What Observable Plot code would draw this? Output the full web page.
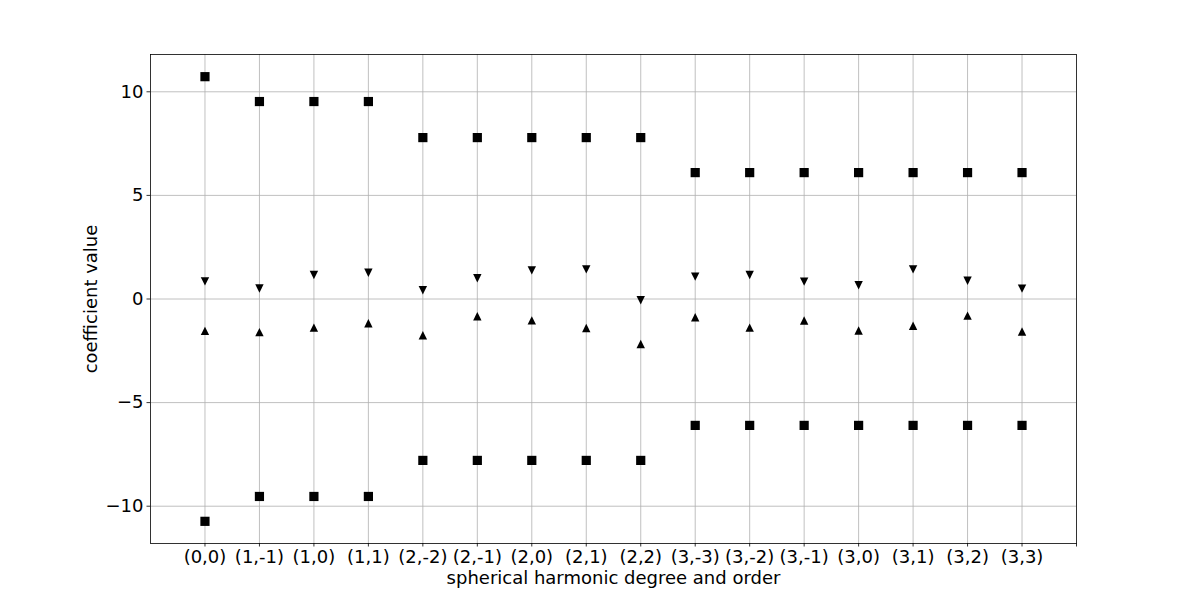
<!DOCTYPE html>
<html><head><meta charset="utf-8">
<script src="https://cdn.jsdelivr.net/npm/d3@7"></script>
<script src="https://cdn.jsdelivr.net/npm/@observablehq/plot@0.6"></script>
<style>html,body{margin:0;padding:0;background:#fff;overflow:hidden}</style>
</head><body><div id="chart"></div>
<script>
const labels = ["(0,0)","(1,-1)","(1,0)","(1,1)","(2,-2)","(2,-1)","(2,0)","(2,1)","(2,2)","(3,-3)","(3,-2)","(3,-1)","(3,0)","(3,1)","(3,2)","(3,3)"];
const upperBound = [10.73,9.53,9.53,9.53,7.79,7.79,7.79,7.79,7.79,6.1,6.1,6.1,6.1,6.1,6.1,6.1];
const lowerBound = [-10.73,-9.53,-9.53,-9.53,-7.79,-7.79,-7.79,-7.79,-7.79,-6.1,-6.1,-6.1,-6.1,-6.1,-6.1,-6.1];
const downValues = [0.85,0.51,1.16,1.27,0.42,1.0,1.38,1.43,-0.06,1.08,1.16,0.84,0.66,1.43,0.88,0.5];
const upValues = [-1.54,-1.6,-1.38,-1.17,-1.75,-0.83,-1.03,-1.4,-2.17,-0.88,-1.38,-1.04,-1.52,-1.29,-0.8,-1.57];
const yTicks = [-10,-5,0,5,10];

const idx = labels.map((_, i) => i);
const squareSym = {draw(ctx, size){const r = Math.sqrt(size/Math.PI); ctx.moveTo(-r,-r); ctx.lineTo(r,-r); ctx.lineTo(r,r); ctx.lineTo(-r,r); ctx.closePath();}};
const triUp = {draw(ctx, size){const r = Math.sqrt(size/Math.PI); ctx.moveTo(0,-r); ctx.lineTo(r,r); ctx.lineTo(-r,r); ctx.closePath();}};
const triDown = {draw(ctx, size){const r = Math.sqrt(size/Math.PI); ctx.moveTo(0,r); ctx.lineTo(r,-r); ctx.lineTo(-r,-r); ctx.closePath();}};

const grid = {stroke: "#b0b0b0", strokeOpacity: 1, strokeWidth: 0.8};
const chart = Plot.plot({
  width: 1196, height: 607,
  marginLeft: 150, marginRight: 120, marginTop: 54, marginBottom: 64,
  style: {fontFamily: "DejaVu Sans", fontSize: "18px", color: "#000", background: "#fff"},
  x: {type: "linear", domain: [-1, 16]},
  y: {domain: [-11.8, 11.8]},
  marks: [
    Plot.gridX(idx, grid),
    Plot.gridY(yTicks, grid),
    Plot.frame({stroke: "#000", strokeWidth: 0.8}),
    Plot.axisX(d3.range(17), {tickFormat: i => labels[i] ?? "", tickSize: 3.5, tickPadding: 3.5, strokeWidth: 0.8,
      label: "spherical harmonic degree and order", labelAnchor: "center", labelArrow: "none", labelOffset: 40}),
    Plot.axisY(yTicks, {tickSize: 3.5, tickPadding: 3.5, strokeWidth: 0.8,
      label: "coefficient value", labelAnchor: "center", labelArrow: "none", labelOffset: 66}),
    Plot.dot(idx, {x: i => i, y: i => upperBound[i], symbol: squareSym, r: 4.6, fill: "#000", stroke: "none"}),
    Plot.dot(idx, {x: i => i, y: i => lowerBound[i], symbol: squareSym, r: 4.6, fill: "#000", stroke: "none"}),
    Plot.dot(idx, {x: i => i, y: i => downValues[i], symbol: triDown, r: 4.2, fill: "#000", stroke: "none"}),
    Plot.dot(idx, {x: i => i, y: i => upValues[i], symbol: triUp, r: 4.2, fill: "#000", stroke: "none"})
  ]
});
document.getElementById("chart").append(chart);
</script>
</body></html>
